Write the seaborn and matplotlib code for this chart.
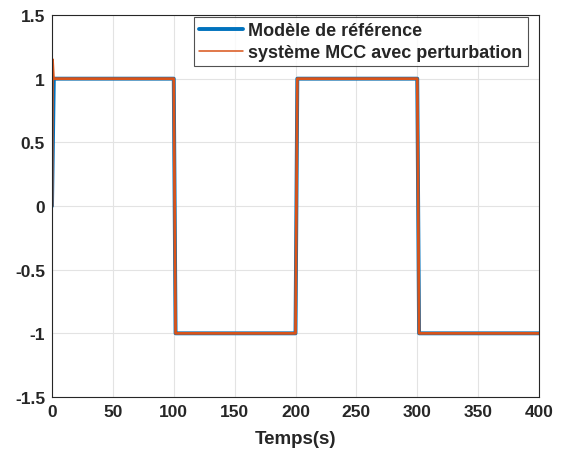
import pandas as pd
import matplotlib
matplotlib.use("Agg")
import matplotlib.pyplot as plt
import seaborn as sns

# breakpoints
t_ref = [0, 1.5, 100, 101.5, 200, 201.5, 300, 301.5, 400]
y_ref = [0, 1, 1, -1, -1, 1, 1, -1, -1]

t_mcc = [0, 0.4, 1.2, 2, 100, 101.5, 200, 201.5, 300, 301.5, 400]
y_mcc = [0, 1.15, 1.0, 1.0, 1.0, -1.0, -1.0, 1.0, 1.0, -1.0, -1.0]

xticks = [0, 50, 100, 150, 200, 250, 300, 350, 400]
yticks = [-1.5, -1, -0.5, 0, 0.5, 1, 1.5]
yticklabels = ["-1.5", "-1", "-0.5", "0", "0.5", "1", "1.5"]

sns.set_style("whitegrid")
plt.rcParams['font.family'] = ['Liberation Sans', 'DejaVu Sans']
plt.rcParams['font.weight'] = 'bold'

ref = pd.DataFrame({'t': t_ref, 'y': y_ref})
mcc = pd.DataFrame({'t': t_mcc, 'y': y_mcc})

fig = plt.figure(figsize=(5.63, 4.52), dpi=100)
ax = fig.add_axes([52/563, 1-398/452, (539-52)/563, (398-16)/452])

sns.lineplot(data=ref, x='t', y='y', ax=ax, sort=False, estimator=None,
             color=(0, 0.447, 0.741), linewidth=2.8, label='Modèle de référence')
sns.lineplot(data=mcc, x='t', y='y', ax=ax, sort=False, estimator=None,
             color=(0.85, 0.325, 0.098), linewidth=2.0, label='système MCC avec perturbation')

ax.set_xlim(0, 400)
ax.set_ylim(-1.5, 1.5)
ax.set_xticks(xticks)
ax.set_xticklabels([str(v) for v in xticks], fontsize=12.5, fontweight='bold')
ax.set_yticks(yticks)
ax.set_yticklabels(yticklabels, fontsize=12.5, fontweight='bold')
ax.set_xlabel('Temps(s)', fontsize=13.5, fontweight='bold', labelpad=8)
ax.set_ylabel('')
ax.grid(True, color='#e3e3e3', linewidth=0.8)
ax.tick_params(direction='in', length=4, color='#333333', pad=5)
for s in ax.spines.values():
    s.set_color('#262626')
    s.set_linewidth(0.8)

leg = ax.legend(loc='upper right', bbox_to_anchor=(0.977, 0.995), fontsize=13,
                frameon=True, fancybox=False, edgecolor='#262626',
                handlelength=2.4, handletextpad=0.3, borderpad=0.3,
                labelspacing=0.25, borderaxespad=0)
leg.get_frame().set_linewidth(0.8)
leg.get_lines()[1].set_linewidth(1.1)
for txt in leg.get_texts():
    txt.set_fontweight('bold')

fig.savefig('out.png', dpi=100)
